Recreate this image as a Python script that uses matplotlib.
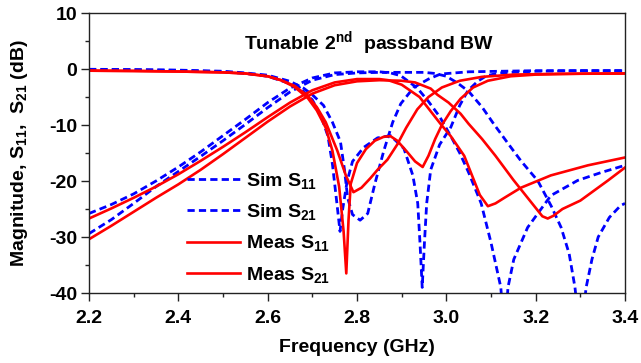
import matplotlib
matplotlib.use("Agg")
import matplotlib.pyplot as plt
from matplotlib.lines import Line2D
from matplotlib.ticker import MultipleLocator

plt.rcParams["font.family"] = ["Liberation Sans", "DejaVu Sans"]
plt.rcParams["font.weight"] = "bold"
plt.rcParams["mathtext.fontset"] = "custom"
plt.rcParams["mathtext.rm"] = "Liberation Sans:bold"
plt.rcParams["mathtext.bf"] = "Liberation Sans:bold"
plt.rcParams["mathtext.it"] = "Liberation Sans:bold"
plt.rcParams["mathtext.default"] = "bf"

# Simulated S21, narrow state (transmission zero near 3.13 GHz)
sim_s21_b_f = [2.20, 2.25, 2.30, 2.35, 2.40, 2.45, 2.50, 2.55, 2.60, 2.65, 2.70, 2.75,
               2.80, 2.85, 2.875, 2.898, 2.935, 2.96, 2.985, 3.01, 3.03, 3.05, 3.078,
               3.10, 3.122, 3.13, 3.138, 3.151, 3.182, 3.234, 3.294, 3.346, 3.40]
sim_s21_b_db = [-25.8, -24.2, -22.3, -20.0, -17.5, -14.8, -11.9, -9.0, -6.0, -3.4, -1.6, -0.7,
                -0.5, -0.5, -0.7, -1.2, -3.4, -5.8, -8.5, -12.0, -15.0, -18.5, -24.0,
                -31.0, -39.0, -48.0, -39.0, -34.0, -28.3, -22.6, -19.9, -18.5, -17.2]

# Simulated S21, wide state (transmission zero near 3.30 GHz)
sim_s21_a_f = [2.20, 2.25, 2.30, 2.35, 2.40, 2.45, 2.50, 2.55, 2.60, 2.65, 2.70, 2.75,
               2.80, 2.85, 2.90, 2.95, 2.975, 3.00, 3.025, 3.05, 3.08, 3.106, 3.14,
               3.167, 3.205, 3.235, 3.257, 3.275, 3.288, 3.30, 3.313, 3.326, 3.34,
               3.365, 3.39, 3.40]
sim_s21_a_db = [-29.4, -26.9, -24.0, -21.0, -18.3, -15.6, -12.8, -9.9, -6.9, -4.1, -2.0, -1.0,
                -0.7, -0.6, -0.6, -0.6, -0.8, -1.3, -2.5, -4.0, -6.8, -9.8, -13.5,
                -16.4, -20.0, -24.5, -28.3, -33.0, -39.0, -48.0, -39.0, -34.0, -30.0,
                -26.5, -24.4, -24.0]

# Simulated S11, wide state
sim_s11_a_f = [2.20, 2.30, 2.40, 2.50, 2.55, 2.60, 2.65, 2.68, 2.70, 2.72, 2.735, 2.745,
               2.755, 2.762, 2.768, 2.778, 2.79, 2.815, 2.846, 2.875, 2.905, 2.925,
               2.936, 2.941, 2.946, 2.951, 2.956, 2.965, 2.985, 3.01, 3.03, 3.048,
               3.07, 3.09, 3.12, 3.20, 3.30, 3.40]
sim_s11_a_db = [-0.1, -0.15, -0.25, -0.5, -0.8, -1.3, -2.6, -4.0, -5.5, -8.5, -12.0, -17.0,
                -24.0, -29.0, -25.0, -20.0, -16.5, -14.0, -12.3, -11.9, -14.2, -19.0,
                -24.0, -31.0, -39.0, -31.0, -24.0, -18.0, -13.5, -10.4, -6.5, -3.9,
                -2.2, -1.2, -0.7, -0.4, -0.3, -0.3]

# Simulated S11, narrow state
sim_s11_b_f = [2.20, 2.30, 2.40, 2.50, 2.55, 2.60, 2.65, 2.68, 2.70, 2.725, 2.745, 2.763,
               2.772, 2.779, 2.79, 2.807, 2.824, 2.84, 2.86, 2.88, 2.898, 2.927, 2.96,
               2.987, 3.05, 3.20, 3.40]
sim_s11_b_db = [-0.05, -0.1, -0.2, -0.4, -0.7, -1.1, -2.2, -3.4, -4.6, -6.5, -9.5, -13.0,
                -18.0, -23.0, -26.0, -27.0, -25.8, -20.5, -14.6, -9.5, -6.2, -3.3, -1.8,
                -0.9, -0.5, -0.3, -0.3]

# Measured S21, narrow state
meas_s21_b_f = [2.20, 2.25, 2.30, 2.35, 2.40, 2.45, 2.50, 2.55, 2.60, 2.65, 2.70, 2.75,
                2.80, 2.85, 2.87, 2.90, 2.94, 2.987, 3.01, 3.04, 3.06, 3.075, 3.093,
                3.11, 3.13, 3.167, 3.234, 3.317, 3.40]
meas_s21_b_db = [-26.7, -24.9, -23.0, -21.0, -18.8, -16.4, -13.9, -11.3, -8.6, -6.0, -3.8, -2.4,
                 -1.8, -1.8, -2.0, -2.8, -5.0, -9.8, -12.0, -15.5, -19.5, -22.5, -24.5,
                 -24.0, -23.0, -21.2, -19.0, -17.2, -15.8]

# Measured S21, wide state
meas_s21_a_f = [2.20, 2.25, 2.30, 2.35, 2.40, 2.45, 2.50, 2.55, 2.60, 2.65, 2.70, 2.75,
                2.80, 2.85, 2.90, 2.93, 2.965, 2.98, 3.005, 3.032, 3.05, 3.08, 3.11,
                3.15, 3.196, 3.215, 3.227, 3.24, 3.26, 3.30, 3.362, 3.40]
meas_s21_a_db = [-30.4, -28.0, -25.5, -23.0, -20.6, -18.0, -15.2, -12.3, -9.4, -6.7, -4.4, -2.9,
                 -2.2, -2.0, -2.1, -2.4, -3.5, -4.6, -6.0, -8.0, -9.8, -12.5, -15.5,
                 -19.8, -24.4, -26.3, -26.7, -26.2, -25.0, -23.5, -19.9, -17.6]

# Measured S11, wide state
meas_s11_a_f = [2.20, 2.30, 2.40, 2.50, 2.55, 2.60, 2.63, 2.66, 2.69, 2.71, 2.73, 2.745,
                2.76, 2.77, 2.776, 2.781, 2.786, 2.80, 2.82, 2.84, 2.86, 2.875, 2.89,
                2.91, 2.93, 2.947, 2.96, 2.975, 2.99, 3.01, 3.032, 3.06, 3.093, 3.144,
                3.20, 3.30, 3.40]
meas_s11_a_db = [-0.3, -0.35, -0.45, -0.6, -0.8, -1.3, -2.0, -3.2, -5.2, -7.4, -10.5, -14.6,
                 -21.0, -29.0, -36.5, -27.0, -20.5, -16.8, -14.3, -12.8, -12.1, -12.0, -12.8,
                 -14.6, -16.5, -17.5, -15.5, -12.5, -10.0, -7.5, -5.3, -3.3, -2.1, -1.3,
                 -1.0, -0.85, -0.8]

# Measured S11, narrow state
meas_s11_b_f = [2.20, 2.30, 2.40, 2.50, 2.55, 2.60, 2.63, 2.66, 2.69, 2.71, 2.73, 2.756,
                2.775, 2.792, 2.81, 2.83, 2.846, 2.868, 2.89, 2.91, 2.935, 2.96, 2.99,
                3.03, 3.08, 3.15, 3.25, 3.40]
meas_s11_b_db = [-0.3, -0.35, -0.45, -0.6, -0.8, -1.3, -2.0, -3.0, -4.8, -6.8, -9.5, -14.6,
                 -19.0, -22.0, -21.2, -19.5, -18.0, -16.2, -13.5, -10.5, -7.2, -5.0, -3.3,
                 -2.1, -1.4, -1.0, -0.85, -0.8]

x_ticks = [2.2, 2.4, 2.6, 2.8, 3.0, 3.2, 3.4]
y_ticks = [-40, -30, -20, -10, 0, 10]

BLUE = "#0000ff"
RED = "#ff0000"
DASH = (2.6, 1.5)

fig = plt.figure(figsize=(6.41, 3.63), dpi=100)
ax = fig.add_axes([89 / 641, 1 - 293 / 363, 536 / 641, 280 / 363])

sim_kw = dict(color=BLUE, lw=2.0, linestyle=(0, DASH))
meas_kw = dict(color=RED, lw=1.9, solid_joinstyle="round")

for f, db in [(sim_s11_a_f, sim_s11_a_db), (sim_s11_b_f, sim_s11_b_db),
              (sim_s21_a_f, sim_s21_a_db), (sim_s21_b_f, sim_s21_b_db)]:
    ax.plot(f, db, **sim_kw)
for f, db in [(meas_s11_a_f, meas_s11_a_db), (meas_s11_b_f, meas_s11_b_db),
              (meas_s21_a_f, meas_s21_a_db), (meas_s21_b_f, meas_s21_b_db)]:
    ax.plot(f, db, **meas_kw)

ax.set_xlim(2.2, 3.4)
ax.set_ylim(-40, 10)
ax.set_xticks(x_ticks)
ax.set_yticks(y_ticks)
ax.set_xticklabels([f"{v:.1f}" for v in x_ticks])
ax.set_yticklabels([str(v) for v in y_ticks])
ax.xaxis.set_minor_locator(MultipleLocator(0.1))
ax.yaxis.set_minor_locator(MultipleLocator(5))
ax.tick_params(which="both", direction="out", top=False, right=False,
               labelsize=14, width=1.0, color="#222222")
ax.tick_params(which="major", length=5.5)
ax.tick_params(axis="y", which="major", pad=3)
ax.tick_params(axis="x", which="major", pad=6.5)
ax.tick_params(which="minor", length=3)
for sp in ax.spines.values():
    sp.set_linewidth(1.0)
    sp.set_color("#222222")

ax.set_xlabel("Frequency (GHz)", fontsize=14, fontweight="bold", labelpad=9)
ax.set_ylabel(r"Magnitude, S$_{11}$,  S$_{21}$ (dB)", fontsize=14,
              fontweight="bold", labelpad=14)

ax.text(0.522, 0.893, r"Tunable 2$^{nd}$  passband BW", transform=ax.transAxes,
        ha="center", va="center", fontsize=14, fontweight="bold")

handles = [
    Line2D([], [], **sim_kw),
    Line2D([], [], **sim_kw),
    Line2D([], [], **meas_kw),
    Line2D([], [], **meas_kw),
]
labels = [r"Sim S$_{11}$", r"Sim S$_{21}$", r"Meas S$_{11}$", r"Meas S$_{21}$"]
ax.legend(handles, labels, loc="upper left", bbox_to_anchor=(0.183, 0.436),
          frameon=False, fontsize=14, handlelength=2.7, handletextpad=0.35,
          borderpad=0, borderaxespad=0, labelspacing=0.58)

fig.savefig("out.png", dpi=100)
